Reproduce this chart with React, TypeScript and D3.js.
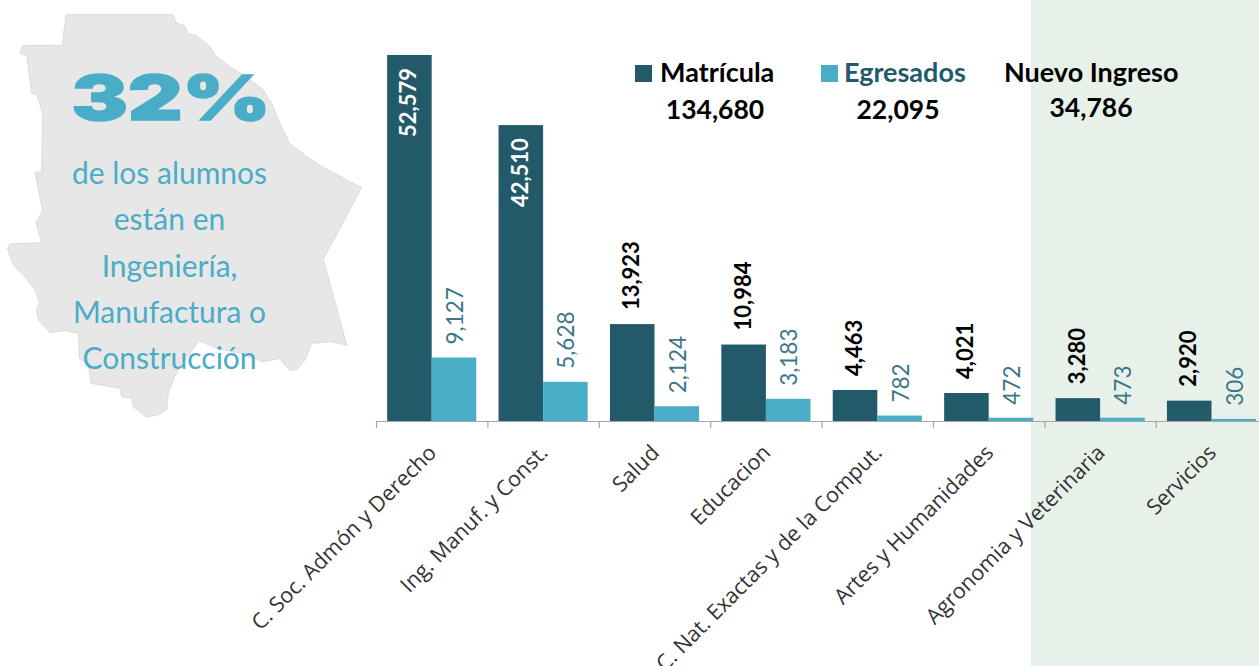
import React from "react";
import * as d3 from "d3";

const categories = ["C. Soc. Admón y Derecho","Ing. Manuf. y Const.","Salud","Educacion","C. Nat. Exactas y de la Comput.","Artes y Humanidades","Agronomia y Veterinaria","Servicios"];
const matricula = [52579,42510,13923,10984,4463,4021,3280,2920];
const egresados = [9127,5628,2124,3183,782,472,473,306];
const legendItems = [
  { name: "Matrícula", total: "134,680" },
  { name: "Egresados", total: "22,095" },
  { name: "Nuevo Ingreso", total: "34,786" },
];
const descLines = ["de los alumnos","están en","Ingeniería,","Manufactura o","Construcción"];
const mapOutline: [number, number][] = [[198,44],[520,44],[528,68],[556,80],[562,100],[590,108],[625,135],[650,170],[690,200],[745,235],[790,270],[815,310],[835,360],[868,430],[920,470],[975,505],[1085,563],[970,778],[1040,1035],[990,1025],[935,1030],[915,1080],[890,1110],[870,1110],[850,1090],[840,1075],[790,1085],[720,1060],[650,1045],[598,1022],[570,1060],[535,1105],[520,1140],[505,1175],[500,1230],[470,1245],[440,1252],[400,1220],[395,1195],[365,1190],[360,1165],[273,1150],[265,1095],[238,1075],[235,1000],[195,992],[150,998],[115,960],[110,930],[118,905],[105,870],[75,830],[40,795],[22,745],[30,732],[125,728],[108,670],[128,632],[105,518],[125,515],[128,340],[110,283],[95,280],[80,168],[60,160],[68,137],[187,136]];

const DARK = "#235a6a", LIGHT = "#4aadc8", TXT2 = "#3d7689", SANS = "Lato, sans-serif", AXF = "Open Sans";
const fmt = d3.format(",");

export default function App() {
  const x = d3.scaleBand<string>().domain(categories).range([376, 1267.2]).paddingInner(0.2).paddingOuter(0.1);
  const x2 = d3.scaleBand<number>().domain([0, 1]).range([0, x.bandwidth()]);
  const y = d3.scaleLinear().domain([0, 52579]).range([421, 55]);
  const step = x.step();
  const mapLine = d3.line<[number, number]>().x(d => d[0] / 3).y(d => d[1] / 3).curve(d3.curveLinearClosed);
  return (
    <svg width={1259} height={666} style={{ position: "absolute", left: 0, top: 0, display: "block", background: "#fff" }}>
      <rect x={1031} y={0} width={228} height={666} fill="#e8f1e9" />
      <path d={mapLine(mapOutline) || ""} fill="#e7e7e7" stroke="#dcdcdc" strokeWidth={1} />
      <text x={0} y={0} transform="translate(171,120) scale(1.36,1)" textAnchor="middle" fontFamily="Inter, sans-serif" fontWeight={900} fontSize={62} fill={LIGHT} stroke={LIGHT} strokeWidth={1.5}>32%</text>
      {descLines.map((t, i) => (
        <text key={t} x={169.5} y={184 + i * 46.3} textAnchor="middle" fontFamily={SANS} fontSize={30} fill={LIGHT}>{t}</text>
      ))}
      {categories.map((c, i) => {
        const x0 = x(c)!;
        const yd = y(matricula[i]), yl = y(egresados[i]);
        const inside = matricula[i] > 20000;
        const dx = x0 + x2(0)! + x2.bandwidth() / 2, lx = x0 + x2(1)! + x2.bandwidth() / 2;
        const dAnchorY = inside ? yd + 82 : yd - 14;
        const lAnchorY = yl - 13;
        return (
          <g key={c}>
            <rect x={x0 + x2(0)!} y={yd} width={x2.bandwidth()} height={y(0) - yd} fill={DARK} />
            <rect x={x0 + x2(1)!} y={yl} width={x2.bandwidth()} height={y(0) - yl} fill={LIGHT} />
            <text transform={`translate(${dx + 7},${dAnchorY}) rotate(-90)`} fontFamily={SANS} fontWeight={700} fontSize={22} fill={inside ? "#ffffff" : "#000000"}>{fmt(matricula[i])}</text>
            <text transform={`translate(${lx + 9},${lAnchorY}) rotate(-90)`} fontFamily={SANS} fontSize={22.5} fill={TXT2}>{fmt(egresados[i])}</text>
            <text transform={`translate(${x0 + x.bandwidth() / 2 + 6},${454}) rotate(-45)`} textAnchor="end" fontFamily={AXF} fontSize={21.5} fill="#333333">{c}</text>
          </g>
        );
      })}
      <line x1={376.5} x2={1259} y1={y(0) + 0.5} y2={y(0) + 0.5} stroke="#a6a6a6" strokeWidth={1.2} />
      {d3.range(0, 8).map(i => (
        <line key={i} x1={376.5 + i * step} x2={376.5 + i * step} y1={421} y2={428} stroke="#a6a6a6" strokeWidth={1.2} />
      ))}
      <rect x={635} y={65} width={17} height={17} fill={DARK} />
      <rect x={821} y={65} width={17} height={17} fill={LIGHT} />
      <text x={660} y={82} fontFamily={SANS} fontWeight={700} fontSize={27} fill="#000">{legendItems[0].name}</text>
      <text x={715} y={119} textAnchor="middle" fontFamily={SANS} fontWeight={700} fontSize={26.5} fill="#000">{legendItems[0].total}</text>
      <text x={844} y={82} fontFamily={SANS} fontWeight={700} fontSize={27} fill={DARK}>{legendItems[1].name}</text>
      <text x={898} y={119} textAnchor="middle" fontFamily={SANS} fontWeight={700} fontSize={26.5} fill="#000">{legendItems[1].total}</text>
      <text x={1004} y={82} fontFamily={SANS} fontWeight={700} fontSize={27} fill="#000">{legendItems[2].name}</text>
      <text x={1091} y={117} textAnchor="middle" fontFamily={SANS} fontWeight={700} fontSize={26.5} fill="#000">{legendItems[2].total}</text>
    </svg>
  );
}
